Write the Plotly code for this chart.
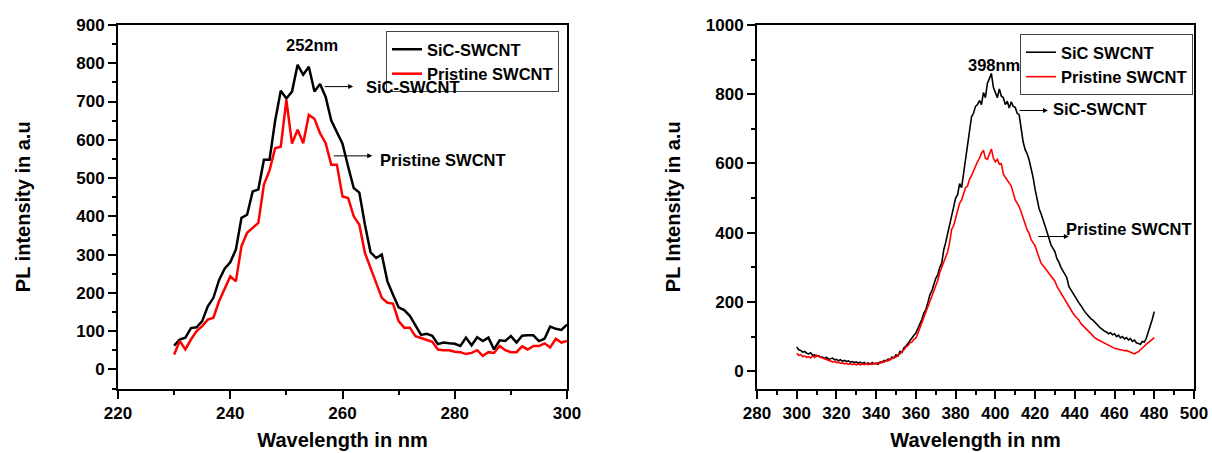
import plotly.graph_objects as go

# ---------------- Left panel data (nm, a.u.) ----------------
wl_left = list(range(230, 301))
sic_left = [62, 78, 83, 108, 110, 126, 165, 187, 233, 263,
            280, 313, 396, 404, 465, 470, 548, 548, 650, 728,
            708, 726, 796, 770, 791, 726, 746, 712, 650, 622,
            590, 530, 474, 462, 378, 306, 291, 300, 230, 195,
            162, 155, 140, 115, 90, 93, 88, 66, 70, 68,
            67, 61, 83, 63, 84, 74, 83, 52, 76, 74,
            87, 70, 88, 89, 89, 74, 80, 112, 106, 103,
            117]
pristine_left = [39, 74, 52, 78, 100, 113, 130, 135, 178, 209,
                 243, 230, 322, 357, 370, 383, 483, 520, 578, 582,
                 704, 590, 626, 591, 665, 655, 617, 591, 535, 535,
                 452, 448, 400, 378, 304, 265, 226, 187, 174, 172,
                 126, 109, 109, 87, 82, 78, 72, 52, 50, 50,
                 46, 45, 40, 43, 50, 35, 45, 43, 61, 50,
                 45, 45, 60, 52, 61, 61, 68, 57, 80, 70,
                 74]

# ---------------- Right panel data (nm, a.u.) ----------------
wl_right = list(range(300, 481))
sic_right = [70, 62, 60, 55, 57, 52, 50, 53, 46, 47,
             43, 45, 40, 41, 37, 40, 34, 36, 38, 33,
             34, 30, 33, 29, 31, 28, 30, 26, 28, 25,
             27, 23, 26, 22, 25, 21, 24, 20, 25, 21,
             23, 20, 27, 25, 31, 29, 35, 33, 41, 38,
             47, 44, 57, 54, 68, 72, 80, 90, 95, 104,
             110, 122, 138, 150, 168, 178, 198, 220, 232, 250,
             268, 278, 300, 312, 350, 372, 398, 420, 448, 470,
             500, 510, 542, 530, 570, 600, 645, 690, 735, 745,
             765, 770, 782, 770, 805, 790, 832, 845, 860, 820,
             805, 790, 815, 795, 790, 770, 780, 760, 778, 765,
             762, 745, 740, 700, 662, 640, 628, 610, 585, 560,
             525, 500, 470, 455, 440, 420, 402, 380, 365, 355,
             345, 325, 315, 300, 290, 280, 270, 245, 235, 225,
             215, 205, 198, 190, 180, 172, 165, 158, 152, 148,
             142, 133, 128, 124, 120, 115, 113, 108, 111, 105,
             108, 100, 104, 96, 100, 93, 97, 90, 94, 86,
             90, 82, 80, 78, 86, 84, 95, 112, 130, 150,
             172]
pristine_right = [52, 46, 48, 42, 44, 40, 42, 38, 44, 40,
                  46, 42, 40, 38, 36, 33, 32, 29, 27, 28,
                  25, 26, 23, 24, 21, 23, 20, 22, 19, 21,
                  18, 21, 18, 21, 19, 22, 19, 22, 20, 23,
                  21, 25, 23, 28, 26, 31, 30, 35, 36, 40,
                  41, 47, 50, 57, 62, 70, 74, 82, 84, 92,
                  96, 110, 125, 142, 158, 170, 190, 200, 215, 232,
                  245, 262, 285, 300, 318, 335, 345, 372, 410, 420,
                  440, 465, 485, 495, 512, 530, 535, 555, 565, 580,
                  595, 605, 615, 630, 638, 615, 612, 630, 642, 615,
                  605, 612, 598, 600, 570, 560, 552, 542, 535, 515,
                  495, 485, 475, 460, 440, 425, 408, 398, 380, 372,
                  362, 345, 325, 312, 305, 296, 290, 282, 275, 266,
                  260, 245, 235, 224, 215, 205, 195, 186, 178, 168,
                  160, 154, 148, 138, 132, 126, 120, 113, 108, 102,
                  97, 93, 90, 86, 84, 80, 79, 75, 72, 70,
                  66, 65, 63, 62, 61, 59, 60, 57, 56, 52,
                  50, 54, 56, 62, 66, 72, 78, 82, 88, 92,
                  97]

FONT = "Arial, Liberation Sans, sans-serif"
W, H = 1212, 453

fig = go.Figure()
fig.add_trace(go.Scatter(x=wl_left, y=sic_left, mode="lines", name="SiC-SWCNT",
                         line=dict(color="black", width=2.5), xaxis="x", yaxis="y", legend="legend"))
fig.add_trace(go.Scatter(x=wl_left, y=pristine_left, mode="lines", name="Pristine SWCNT",
                         line=dict(color="#ff0000", width=2.5), xaxis="x", yaxis="y", legend="legend"))
fig.add_trace(go.Scatter(x=wl_right, y=sic_right, mode="lines", name="SiC SWCNT",
                         line=dict(color="black", width=1.6), xaxis="x2", yaxis="y2", legend="legend2"))
fig.add_trace(go.Scatter(x=wl_right, y=pristine_right, mode="lines", name="Pristine SWCNT",
                         line=dict(color="#ff0000", width=1.6), xaxis="x2", yaxis="y2", legend="legend2"))

tickfont = dict(family=FONT, size=17, color="black", weight="bold")
titlefont = dict(family=FONT, size=20, color="black", weight="bold")

def xax(dom, rng, dtick, minor_dtick):
    return dict(domain=dom, range=rng, dtick=dtick, tick0=rng[0], ticks="outside", ticklen=8,
                tickwidth=2, tickcolor="black", showline=True, linewidth=2, linecolor="black",
                mirror=True, showgrid=False, zeroline=False, tickfont=tickfont, automargin=False,
                minor=dict(dtick=minor_dtick, tick0=rng[0], ticks="outside", ticklen=4,
                           tickwidth=2, tickcolor="black"),
                title=dict(text="Wavelength in nm", font=titlefont, standoff=11))

def yax(dom, rng, dtick, minor_dtick, title, standoff):
    return dict(domain=dom, range=rng, dtick=dtick, tick0=0, ticks="outside", ticklen=8,
                tickwidth=2, tickcolor="black", showline=True, linewidth=2, linecolor="black",
                mirror=True, showgrid=False, zeroline=False, tickfont=tickfont, automargin=False,
                minor=dict(dtick=minor_dtick, tick0=0, ticks="outside", ticklen=4,
                           tickwidth=2, tickcolor="black"),
                title=dict(text=title, font=titlefont, standoff=standoff))

legfont = dict(family=FONT, size=16.5, color="black", weight="bold")
ydom = [1 - 388.5 / H, 1 - 25 / H]
fig.update_layout(
    width=W, height=H, autosize=False,
    margin=dict(l=0, r=0, t=0, b=0, autoexpand=False),
    paper_bgcolor="white", plot_bgcolor="white",
    xaxis=xax([118 / W, 567 / W], [220, 300], 20, 10),
    yaxis=yax(ydom, [-50, 900], 100, 50, "PL intensity in a.u", 40),
    xaxis2=dict(anchor="y2", **xax([757 / W, 1194 / W], [280, 500], 20, 10)),
    yaxis2=dict(anchor="x2", **yax(ydom, [-50, 1000], 200, 100, "PL Intensity in a.u", 20)),
    legend=dict(x=386 / W, y=1 - 31 / H, xanchor="left", yanchor="top",
                bgcolor="white", bordercolor="#444", borderwidth=1,
                font=legfont, tracegroupgap=0, itemwidth=30),
    legend2=dict(x=1020 / W, y=1 - 34 / H, xanchor="left", yanchor="top",
                 bgcolor="white", bordercolor="#444", borderwidth=1,
                 font=legfont, tracegroupgap=0, itemwidth=30),
    showlegend=True,
)

afont = dict(family=FONT, size=16.5, color="black", weight="bold")
annots = [
    # left panel
    dict(x=254.6, y=848, xref="x", yref="y", text="252nm", showarrow=False, font=afont),
    dict(x=261.9, y=739, xref="x", yref="y", text="", showarrow=True, ax=-30, ay=0,
         arrowhead=2, arrowsize=1, arrowwidth=1, arrowcolor="black"),
    dict(x=272.6, y=739, xref="x", yref="y", text="SiC-SWCNT", showarrow=False, font=afont),
    dict(x=265.3, y=558, xref="x", yref="y", text="", showarrow=True, ax=-40, ay=0,
         arrowhead=2, arrowsize=1, arrowwidth=1, arrowcolor="black"),
    dict(x=277.9, y=548, xref="x", yref="y", text="Pristine SWCNT", showarrow=False, font=afont),
    # right panel
    dict(x=399.1, y=883, xref="x2", yref="y2", text="398nm", showarrow=False, font=afont),
    dict(x=426.5, y=753, xref="x2", yref="y2", text="", showarrow=True, ax=-30, ay=0,
         arrowhead=2, arrowsize=1, arrowwidth=1, arrowcolor="black"),
    dict(x=452.7, y=756, xref="x2", yref="y2", text="SiC-SWCNT", showarrow=False, font=afont),
    dict(x=437.0, y=389, xref="x2", yref="y2", text="", showarrow=True, ax=-32, ay=0,
         arrowhead=2, arrowsize=1, arrowwidth=1, arrowcolor="black"),
    dict(x=467.3, y=412, xref="x2", yref="y2", text="Pristine SWCNT", showarrow=False, font=afont),
]
fig.update_layout(annotations=annots)

fig.write_html("out.html", config={"displayModeBar": False},
               post_script="document.body.style.margin='0';")
